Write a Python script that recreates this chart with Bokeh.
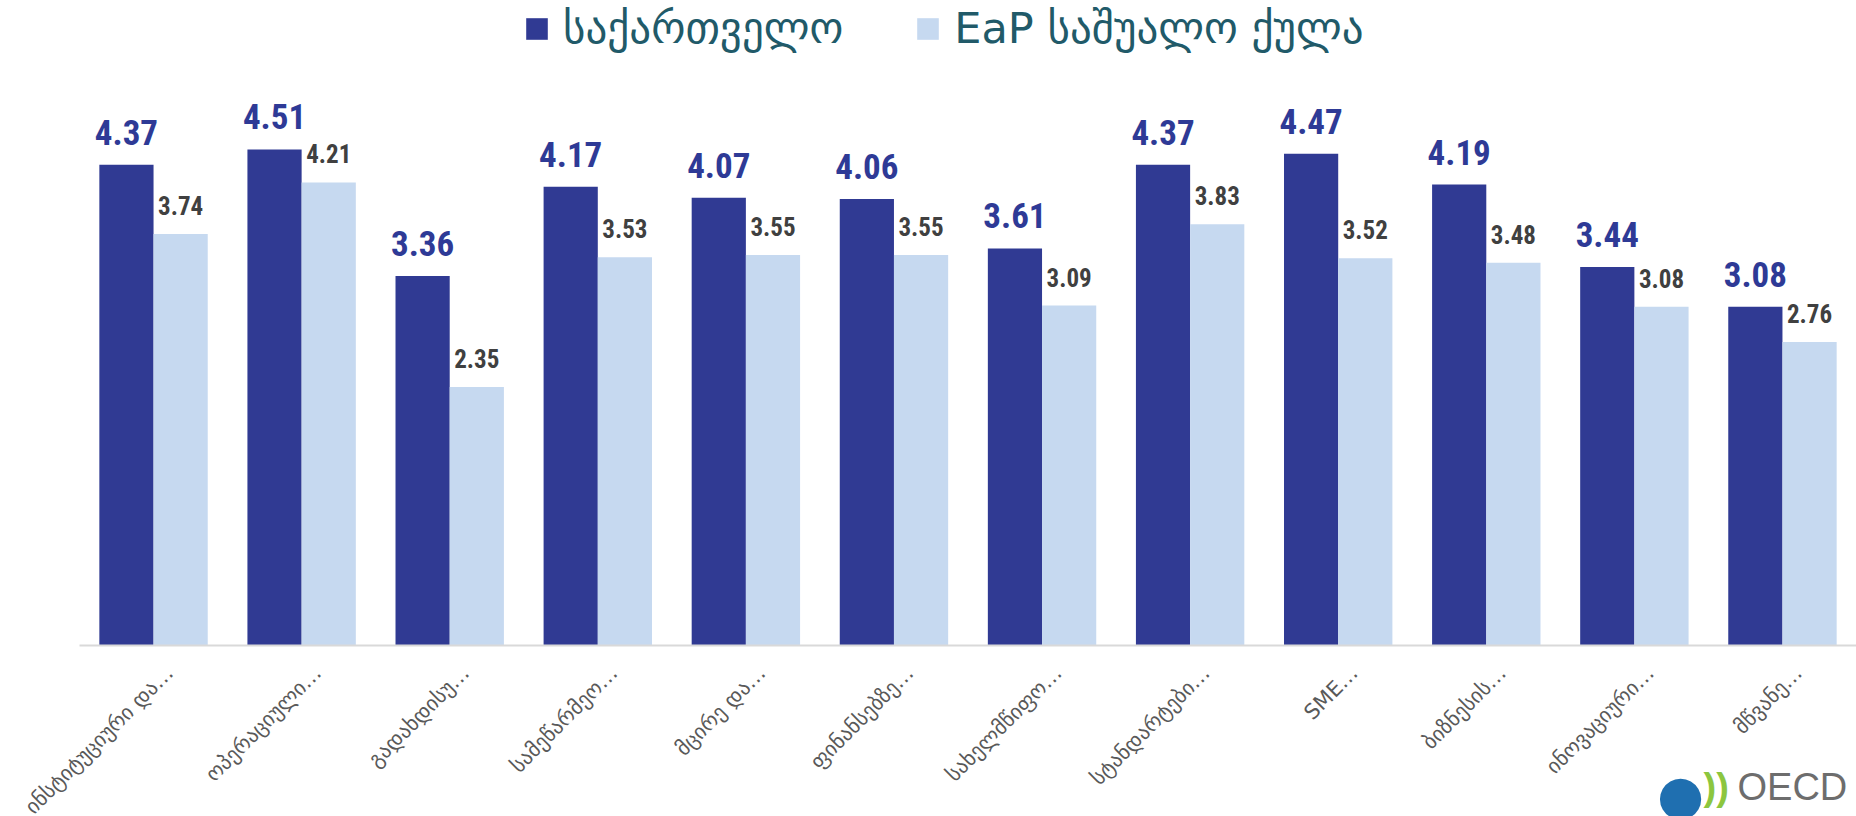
import math
from bokeh.plotting import figure
from bokeh.models import ColumnDataSource, LabelSet, Legend, LegendItem, Label, Range1d
from bokeh.transform import dodge
from bokeh.core.properties import value
from bokeh.embed import file_html
from bokeh.resources import INLINE

categories = ["ინსტიტუციური და…", "ოპერაციული…", "გადახდისუ…", "სამეწარმეო…",
              "მცირე და…", "ფინანსებზე…", "სახელმწიფო…", "სტანდარტები…",
              "SME…", "ბიზნესის…", "ინოვაციური…", "მწვანე…"]
georgia = [4.37, 4.51, 3.36, 4.17, 4.07, 4.06, 3.61, 4.37, 4.47, 4.19, 3.44, 3.08]
eap = [3.74, 4.21, 2.35, 3.53, 3.55, 3.55, 3.09, 3.83, 3.52, 3.48, 3.08, 2.76]
series_names = ["საქართველო", "EaP საშუალო ქულა"]

DARK = "#303a93"
LIGHT = "#c6d9f0"
NUM_FONT = value("'Noto Sans Condensed', 'Roboto Condensed', 'Arial Narrow', Roboto, sans-serif")

n = len(categories)
src = ColumnDataSource(dict(cat=categories, pos=[i + 0.5 for i in range(n)],
                            geo=georgia, eap=eap,
                            geo_lbl=[f"{v:.2f}" for v in georgia],
                            eap_lbl=[f"{v:.2f}" for v in eap]))

PX_PER_UNIT = 110.0
LEFT_PAD = 79 / 148.08   # empty space left of the first category (in category widths)
p = figure(x_range=Range1d(-LEFT_PAD, n),
           y_range=Range1d(-171 / PX_PER_UNIT, 645 / PX_PER_UNIT),
           width=1856, height=816, output_backend="svg", toolbar_location=None,
           min_border_left=0, min_border_right=0, min_border_top=0, min_border_bottom=0,
           outline_line_color=None, background_fill_color="white")

W = 0.366
r1 = p.vbar(x=dodge("pos", -W / 2), top="geo", width=W, source=src,
            fill_color=DARK, line_color=None)
r2 = p.vbar(x=dodge("pos", W / 2), top="eap", width=W, source=src,
            fill_color=LIGHT, line_color=None)

lab1 = LabelSet(x=dodge("pos", -W / 2), y="geo", text="geo_lbl", source=src,
                text_align="center", text_baseline="alphabetic", y_offset=20,
                text_font=NUM_FONT, text_font_style="bold",
                text_font_size="35px", text_color="#2e3a96")
lab2 = LabelSet(x=dodge("pos", W / 2), y="eap", text="eap_lbl", source=src,
                text_align="center", text_baseline="alphabetic", y_offset=19,
                text_font=NUM_FONT, text_font_style="bold",
                text_font_size="25px", text_color="#404040")
p.add_layout(lab1)
p.add_layout(lab2)

# category axis: baseline line across the category span and rotated category labels
p.xaxis.visible = False
p.yaxis.visible = False
p.xgrid.grid_line_color = None
p.ygrid.grid_line_color = None
p.segment(x0=0, y0=0, x1=n, y1=0, line_color="#d9d9d9", line_width=2)
cat_labels = LabelSet(x="pos", y=0, text="cat", source=src, angle=math.pi / 4,
                      text_align="right", text_baseline="middle", x_offset=16, y_offset=-24,
                      text_font=value("DejaVu Sans"), text_font_size="21px",
                      text_color="#595959")
p.add_layout(cat_labels)

legend = Legend(items=[LegendItem(label=series_names[0], renderers=[r1]),
                       LegendItem(label=series_names[1], renderers=[r2])],
                orientation="horizontal", location=(523, 763),
                label_text_font="DejaVu Sans", label_text_font_size="43px",
                label_text_color="#215a69", glyph_width=27, glyph_height=27,
                spacing=71, label_standoff=13, padding=0, margin=0,
                border_line_color=None, background_fill_alpha=0)
p.add_layout(legend)

# OECD logo (decoration), screen units
p.add_layout(Label(x=1680, y=22, x_units="screen", y_units="screen", text="●",
                   text_align="center", text_baseline="middle",
                   text_font="DejaVu Sans", text_font_size="54px", text_color="#1f6fb0"))
p.add_layout(Label(x=1703, y=9, x_units="screen", y_units="screen", text="))",
                   text_font="Liberation Sans", text_font_style="bold",
                   text_font_size="38px", text_color="#8cc63f"))
p.add_layout(Label(x=1737, y=9, x_units="screen", y_units="screen", text="OECD",
                   text_font="Liberation Sans", text_font_size="38px", text_color="#6d6d6d"))

open("out.html", "w").write(file_html(p, INLINE))
